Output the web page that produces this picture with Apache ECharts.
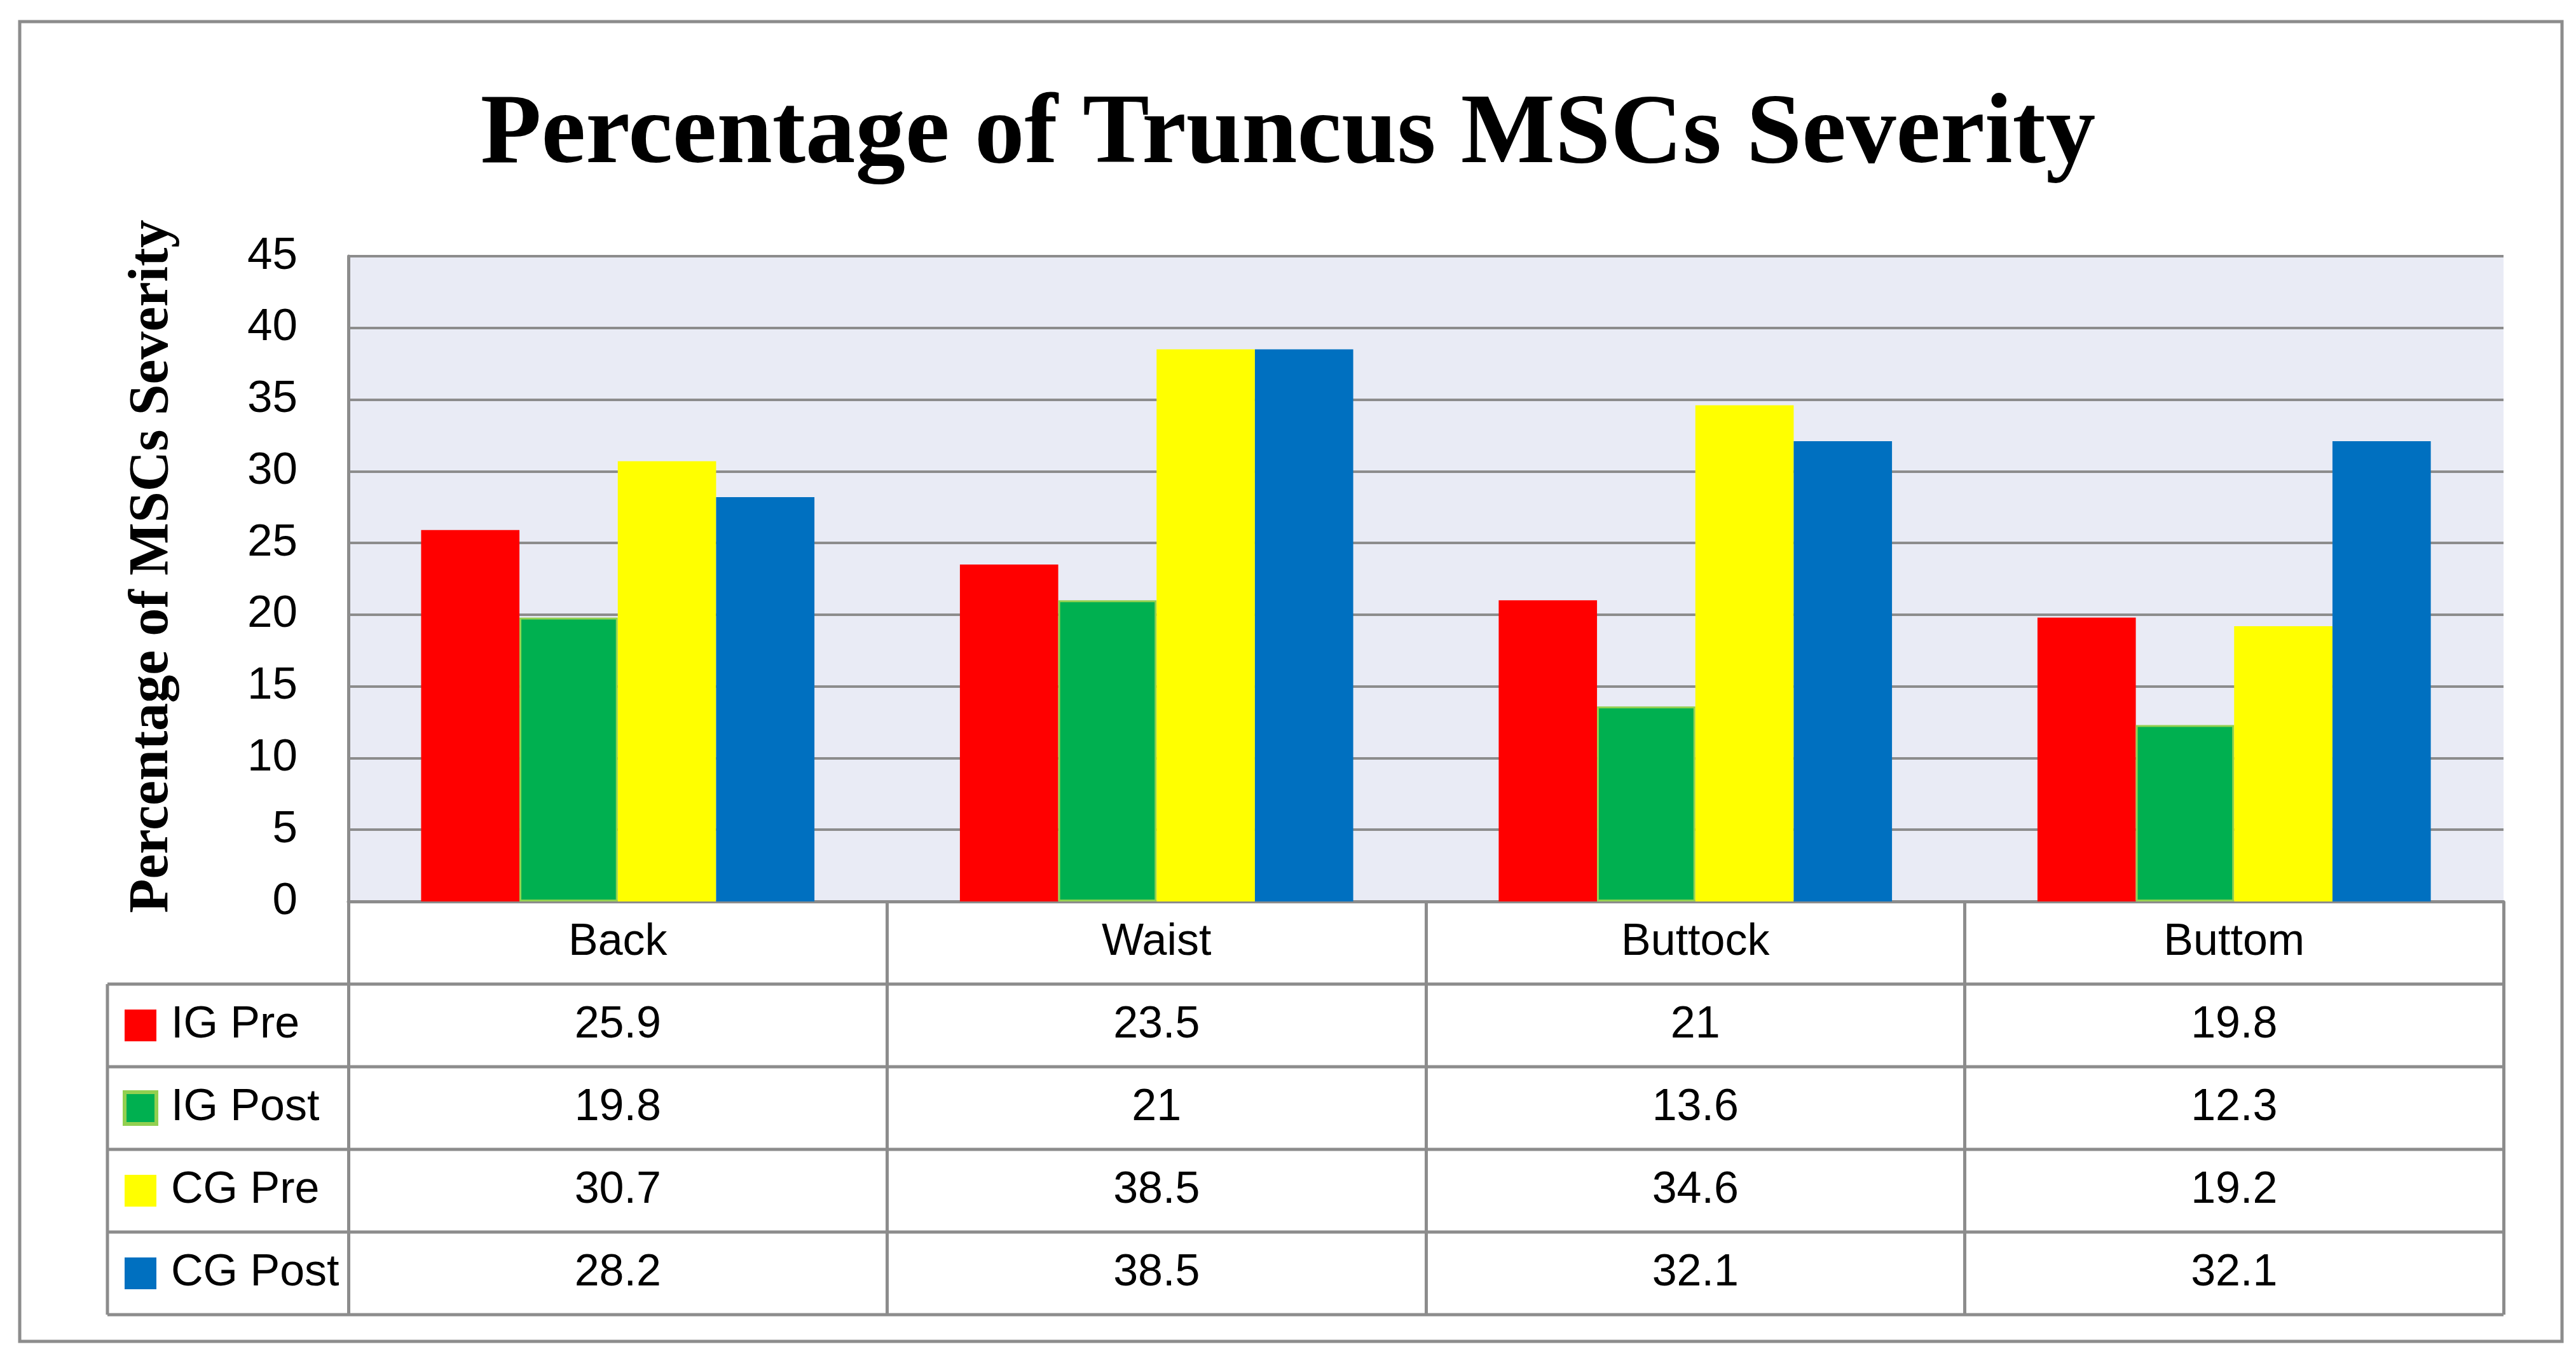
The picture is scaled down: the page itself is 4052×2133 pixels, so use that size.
<!DOCTYPE html>
<html>
<head>
<meta charset="utf-8">
<script src="https://cdn.jsdelivr.net/npm/echarts@6/dist/echarts.min.js"></script>
<style>html,body{margin:0;padding:0;background:#fff}#c{width:4052px;height:2133px}</style>
</head>
<body>
<div id="c"></div>
<script>
const categories = ['Back', 'Waist', 'Buttock', 'Buttom'];
const seriesNames = ['IG Pre', 'IG Post', 'CG Pre', 'CG Post'];
const igPre = [25.9, 23.5, 21, 19.8];
const igPost = [19.8, 21, 13.6, 12.3];
const cgPre = [30.7, 38.5, 34.6, 19.2];
const cgPost = [28.2, 38.5, 32.1, 32.1];
const yTicks = [0, 5, 10, 15, 20, 25, 30, 35, 40, 45];

const seriesValues = [igPre, igPost, cgPre, cgPost];
const colors = ['#FF0000', '#00B050', '#FFFF00', '#0070C0'];
const borders = [null, '#92D050', null, null];

const W = 4052, H = 2133;
const G = {left: 548, right: 3938, top: 403, bottom: 1418};
const rowH = 130;
const lineCol = '#8C8C8C';
const sans = 'Liberation Sans';
const serif = 'Liberation Serif';

const chart = echarts.init(document.getElementById('c'), null, {renderer: 'canvas'});

const xAxes = [{
  type: 'category', data: categories, gridIndex: 0, position: 'bottom',
  axisLine: {show: true, lineStyle: {color: lineCol, width: 5}},
  axisTick: {show: true, length: rowH * 5, lineStyle: {color: lineCol, width: 5}},
  axisLabel: {show: true, margin: rowH / 2, verticalAlign: 'middle', fontFamily: sans, fontSize: 70, color: '#000'},
  splitLine: {show: false}
}];
seriesValues.forEach((vals, r) => {
  xAxes.push({
    type: 'category', data: vals.map(String), gridIndex: 0, position: 'bottom',
    offset: rowH * (r + 1),
    axisLine: {show: false}, axisTick: {show: false}, splitLine: {show: false},
    axisLabel: {show: true, margin: rowH / 2, verticalAlign: 'middle', fontFamily: sans, fontSize: 70, color: '#000'}
  });
});

const graphics = [];
// outer border
graphics.push({type: 'rect', shape: {x: 31, y: 34, width: 3999, height: 2076}, style: {fill: 'none', stroke: lineCol, lineWidth: 5}, z: 1});
// y-axis title
graphics.push({type: 'text', x: 240, y: 891, rotation: Math.PI / 2,
  style: {text: 'Percentage of MSCs Severity', font: 'bold 88px "' + serif + '"', fill: '#000', textAlign: 'center', textVerticalAlign: 'middle'}, z: 10});
// table horizontal lines
for (let r = 1; r <= 5; r++) {
  const y = G.bottom + rowH * r;
  graphics.push({type: 'line', shape: {x1: 169, y1: y, x2: G.right, y2: y}, style: {stroke: lineCol, lineWidth: 5}, z: 5});
}
// left column vertical line
graphics.push({type: 'line', shape: {x1: 169, y1: G.bottom + rowH, x2: 169, y2: G.bottom + rowH * 5}, style: {stroke: lineCol, lineWidth: 5}, z: 5});
// legend keys + names
seriesNames.forEach((name, r) => {
  const cy = G.bottom + rowH * (r + 1) + rowH / 2;
  graphics.push({type: 'rect', shape: {x: 196, y: cy - 25, width: 50, height: 50},
    style: {fill: colors[r], stroke: borders[r] || null, lineWidth: borders[r] ? 6 : 0}, z: 6});
  graphics.push({type: 'text', x: 269, y: cy,
    style: {text: name, font: '70px "' + sans + '"', fill: '#000', textAlign: 'left', textVerticalAlign: 'middle'}, z: 6});
});

const series = seriesValues.map((vals, i) => ({
  type: 'bar', name: seriesNames[i], data: vals, xAxisIndex: 0, yAxisIndex: 0,
  barGap: '0%', barCategoryGap: '27%',
  itemStyle: {color: colors[i], borderColor: borders[i] || colors[i], borderWidth: borders[i] ? 3 : 0},
  animation: false
}));

chart.setOption({
  animation: false,
  backgroundColor: '#fff',
  title: {text: 'Percentage of Truncus MSCs Severity', left: 'center', top: 131,
    textStyle: {fontFamily: serif, fontWeight: 'bold', fontSize: 157, color: '#000'}},
  grid: {left: G.left, top: G.top, width: G.right - G.left, height: G.bottom - G.top,
    show: true, backgroundColor: '#E9EBF5', borderWidth: 0, containLabel: false},
  xAxis: xAxes,
  yAxis: {type: 'value', min: yTicks[0], max: yTicks[yTicks.length - 1], interval: yTicks[1] - yTicks[0],
    axisLine: {show: true, lineStyle: {color: lineCol, width: 5}},
    axisTick: {show: false},
    axisLabel: {margin: 80, fontFamily: sans, fontSize: 71, color: '#000'},
    splitLine: {show: true, lineStyle: {color: lineCol, width: 4}}},
  series: series,
  graphic: graphics
});
</script>
</body>
</html>
